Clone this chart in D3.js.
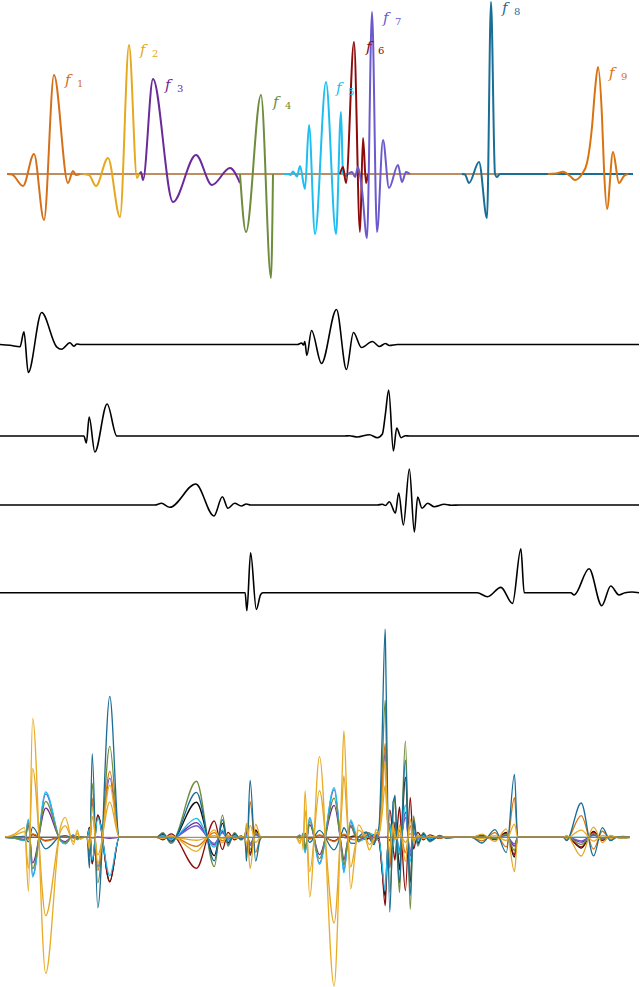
<!DOCTYPE html>
<html><head><meta charset="utf-8">
<script src="https://cdn.jsdelivr.net/npm/d3@7"></script>
<style>html,body{margin:0;padding:0;background:#fff;} svg{display:block}</style>
</head><body>
<svg id="chart" width="640" height="987"></svg>
<script>
// ---------- DATA (t = sample position 0..640, value = amplitude) ----------
// Top panel: dictionary atoms f1..f9, key points [t, amplitude]
const f1 = [[7,0],[12,-0.5],[23,-12],[34,20],[44,-46],[54,99],[68,-9],[73,3],[76,-1],[80,0]];
const f2 = [[83,0],[89,-1],[96,-12],[108,16],[120,-43],[129,129],[137,-4],[140,1],[141,0]];
const f3 = [[140,0],[141,2],[143,-6],[153,95],[173,-28],[196,19],[212,-11],[230,6],[240,-9]];
const f4 = [[240,0],[246,-58],[261,79],[271,-104],[273,0]];
const f5 = [[283,0],[288,0],[290.5,-1],[293,2.5],[297,-2.5],[300,8],[305,-15],[309,49],[315,-60],[326,92],[336,-60],[341,62],[343,1],[345,-2],[348,0]];
const f6 = [[340,0],[343,7],[346,-9],[354,132],[360,-58],[363,36],[366,-9],[368,0]];
const f7 = [[348,0],[352,2],[355,-3],[358,7],[362,-16],[367,-64],[372,162],[377,-58],[383,34],[389,-14],[398,9],[402,-8],[406,2],[410,0]];
const f8 = [[462,0],[465,-0.5],[469,-9],[479,12],[487,-44],[491,172],[495,0],[497,-3],[500,0],[633,0]];
const f9 = [[548,0],[556,0.5],[563,2.3],[570,-2],[575,-6],[582,0],[587,11],[592,47],[595,84],[598,107],[602,57],[604,5],[607,-35],[613,22],[619,-9],[624,-2],[628,0]];
const atomColors = ["#D5701A","#E6A81E","#6A2A9A","#6E8C3C","#1EBEF0","#8C0A0A","#6A5ACD","#196E96","#D9730F"];
const atomSubs = ["1","2","3","4","5","6","7","8","9"];
const labelT = [65,140,165,273,336,366,383,502,609];
const labelA = [89,119,84,67,81,122,151,161,96];
const topBaseline = [[7,0],[633,0]];

// Middle panel: four sources
const s1 = [[0,0],[10,-0.8],[20,-2.3],[24,12.7],[28.3,-28],[41.7,32],[56.7,-2.3],[61.7,-4.7],[70,1.7],[74,-1.7],[77,0.5],[81,0],[298,0],[302,1.5],[304,-0.5],[305.3,3],[307.3,-11],[312,14],[322,-19],[337,35],[347,-25],[354,12],[362,-3],[373,3],[380,-2],[386,1],[390,-1],[398,0],[640,0]];
const s2 = [[0,0],[84,0],[86.5,-7],[89.3,19],[95,-16],[107.3,32],[117,0],[345,0],[350,0.3],[358,-1],[370,1.3],[378,-1.7],[383,2],[386,22],[389.3,46],[394,-15],[397.3,8],[401.7,-1.7],[406,0.3],[410,0],[640,0]];
const s3 = [[0,0],[155,0],[161.7,1.7],[170,-2.3],[196,21],[214.3,-11],[222.7,8.3],[228.3,-3.3],[235,1.7],[241.7,-1],[246.7,1],[251,0],[378,0],[383,0.8],[386,-0.5],[390,3.3],[396,-8],[399.3,12],[404,-20],[410,36],[415,-27],[418.3,8],[422.7,-3.3],[428.3,1.7],[435,-1.7],[445,0.7],[452,-0.3],[460,0],[640,0]];
const s4 = [[0,0],[245.5,0],[247.3,-18],[251,40],[256.7,-16.7],[261,-2],[263.3,0],[478,0],[488.3,-4],[501.7,5.3],[513.3,-10.7],[521.7,44],[525,0],[571.7,0],[575,-2.3],[590,24],[602.7,-13],[611.7,6.7],[620,-2.3],[626,0],[633,0.7],[640,0]];

// Bottom panel: mixtures, weights of each source per mixture
const mixNames  = ["black","darkred","purple","slate","cyan","olive","orange","teal","gold","gold2"];
const mixColors = ["#111111","#8C0A0A","#6A2A9A","#6A5ACD","#1EBEF0","#6E8C3C","#D9730F","#196E96","#E3A623","#E8AC27"];
const mixW1 = [0.0,-0.1,0.91,1.36,1.42,1.12,-0.12,-0.36,-2.45,-4.25];
const mixW2 = [-1.38,-1.4,-0.03,1.85,-1.2,2.84,2.06,4.4,1.1,1.63];
const mixW3 = [1.67,-1.48,0.7,0.55,0.9,2.67,-0.43,2.14,-0.14,-0.67];
const mixW4 = [-0.45,-0.4,-0.2,-0.15,0.0,-0.3,0.9,1.43,-0.78,0.3];

// ---------- DRAW ----------
const svg = d3.select("#chart");
const atoms = [f1,f2,f3,f4,f5,f6,f7,f8,f9];
const sources = [s1,s2,s3,s4];
const weights = [mixW1,mixW2,mixW3,mixW4];

const xTop = d3.scaleLinear().domain([0,640]).range([0,640]);
const yTop = d3.scaleLinear().domain([-100,100]).range([274,74]);
const xMid = d3.scaleLinear().domain([0,640]).range([0,639]);
const midBase = [344.5,436,505,592.7];
const yMid = midBase.map(b => d3.scaleLinear().domain([-50,50]).range([b+50,b-50]));
const xBot = d3.scaleLinear().domain([0,640]).range([5,630]);
const yBot = d3.scaleLinear().domain([-150,150]).range([987.3,687.3]);

const curve = d3.curveMonotoneX;

// top
const topLine = d3.line().x(d=>xTop(d[0])).y(d=>yTop(d[1])).curve(curve);
svg.append("path").attr("d", topLine(topBaseline)).attr("fill","none")
  .attr("stroke","#A9682C").attr("stroke-width",1.6);
atoms.forEach((a,i) => {
  svg.append("path").attr("d", topLine(a)).attr("fill","none")
    .attr("stroke", atomColors[i]).attr("stroke-width",2).attr("stroke-linejoin","round");
});
atoms.forEach((a,i) => {
  const g = svg.append("g").attr("fill", atomColors[i]);
  g.append("text").attr("x", xTop(labelT[i])).attr("y", yTop(labelA[i]))
    .style("font-family","'DejaVu Serif','Liberation Serif',serif").style("font-style","italic")
    .style("font-size","15px").text("f");
  g.append("text").attr("x", xTop(labelT[i])+12).attr("y", yTop(labelA[i])+2)
    .style("font-family","'DejaVu Serif','Liberation Serif',serif")
    .style("font-size","10px").text(atomSubs[i]);
});

// middle
sources.forEach((s,k) => {
  const ln = d3.line().x(d=>xMid(d[0])).y(d=>yMid[k](d[1])).curve(curve);
  svg.append("path").attr("d", ln(s)).attr("fill","none")
    .attr("stroke","#000").attr("stroke-width",1.6).attr("stroke-linejoin","round");
});

// bottom mixtures
const bis = d3.bisector(d => d[0]).right;
function valueAt(pts, t) {
  const i = bis(pts, t);
  if (i <= 0) return pts[0][1];
  if (i >= pts.length) return pts[pts.length-1][1];
  const a = pts[i-1], b = pts[i];
  return d3.interpolateNumber(a[1], b[1])((t - a[0])/(b[0]-a[0]));
}
const tAll = Array.from(new Set(sources.flatMap(s => s.map(d => d[0])))).sort((a,b)=>a-b);
const botLine = d3.line().x(d=>xBot(d[0])).y(d=>yBot(d[1])).curve(curve);
mixNames.forEach((nm,m) => {
  const pts = tAll.map(t => [t, d3.sum(sources, (s,k) => weights[k][m]*valueAt(s,t))]);
  svg.append("path").attr("d", botLine(pts)).attr("fill","none")
    .attr("stroke", mixColors[m]).attr("stroke-width",1.3).attr("stroke-linejoin","round");
});
svg.append("path").attr("d", botLine([[0,0],[640,0]])).attr("fill","none")
  .attr("stroke","#8B7860").attr("stroke-width",1);
</script>
</body></html>
